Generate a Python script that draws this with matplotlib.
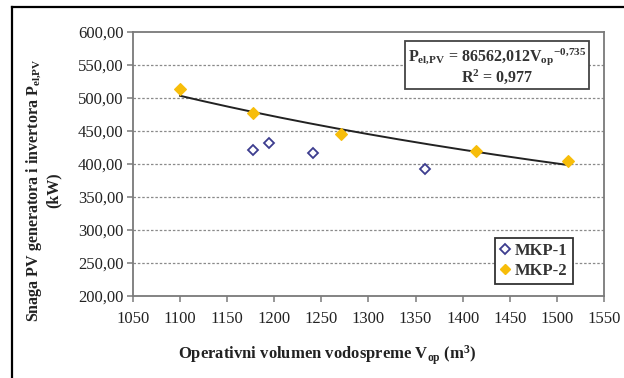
import numpy as np
import matplotlib
matplotlib.use("Agg")
import matplotlib.pyplot as plt
from matplotlib.ticker import FuncFormatter, MultipleLocator
from matplotlib.lines import Line2D

plt.rcParams.update(
    {
        "font.family": "Liberation Serif",
        "mathtext.fontset": "custom",
        "mathtext.rm": "Liberation Serif:bold",
        "mathtext.it": "Liberation Serif:bold",
        "mathtext.bf": "Liberation Serif:bold",
    }
)

# measured points
mkp1_v = [1177, 1194, 1241, 1360]
mkp1_p = [421, 432, 416, 392]
mkp2_v = [1100, 1177, 1271, 1414, 1512]
mkp2_p = [513, 478, 445, 420, 404]

# power-law trend fitted to MKP-2
fit_a = 86562.012
fit_b = -0.735
fit_r2 = 0.977

fig = plt.figure(figsize=(6.24, 3.78), dpi=100)
ax = fig.add_axes([0.2131, 0.2169, 0.7548, 0.6984])

ax.set_xlim(1050, 1550)
ax.set_ylim(200, 600)
ax.xaxis.set_major_locator(MultipleLocator(50))
ax.yaxis.set_major_locator(MultipleLocator(50))
ax.yaxis.set_major_formatter(FuncFormatter(lambda v, p: f"{v:.2f}".replace(".", ",")))

for y in np.arange(250, 600, 50):
    ax.axhline(y, color="#8a8a8a", lw=0.9, ls=(0, (2, 1.5)), zorder=0)

for s in ax.spines.values():
    s.set_color("#7a7a7a")
    s.set_linewidth(1.3)
ax.tick_params(direction="out", length=4, width=1.1, color="#7a7a7a",
               labelsize=12, labelcolor="#222222", pad=3)
ax.tick_params(axis="x", pad=7)

v_fit = np.linspace(min(mkp2_v), max(mkp2_v), 200)
ax.plot(v_fit, fit_a * v_fit ** fit_b, color="#222222", lw=1.4, zorder=2)

ax.plot(mkp1_v, mkp1_p, ls="none", marker="D", ms=5.5, mfc="white",
        mec="#3d3d8f", mew=1.3, zorder=3)
ax.plot(mkp2_v, mkp2_p, ls="none", marker="D", ms=6, mfc="#f7bd0a",
        mec="#f7bd0a", mew=0.8, zorder=3)

a_txt = f"{fit_a:.3f}".replace(".", "{,}")
b_txt = f"{fit_b:.3f}".replace(".", "{,}")
r_txt = f"{fit_r2:.3f}".replace(".", ",")
ax.text(0.773, 0.872,
        f"P$_{{\\mathrm{{el{{,}}PV}}}}$ = {a_txt.replace('{,}', ',')}V$_{{\\mathrm{{op}}}}$$^{{{b_txt}}}$\n"
        f"R$^{{2}}$ = {r_txt}",
        transform=ax.transAxes, ha="center", va="center", fontsize=11.5,
        fontweight="bold", color="#333333", linespacing=1.0,
        bbox=dict(boxstyle="square,pad=0.2", fc="white", ec="#444444", lw=1.3))

handles = [
    Line2D([], [], ls="none", marker="D", ms=5, mfc="white", mec="#3d3d8f", mew=1.3),
    Line2D([], [], ls="none", marker="D", ms=5, mfc="#f7bd0a", mec="#f7bd0a"),
]
leg = ax.legend(handles, ["MKP-1", "MKP-2"], loc="lower left",
                bbox_to_anchor=(0.769, 0.045), fancybox=False, framealpha=1,
                edgecolor="#333333", handlelength=0.6, handletextpad=0.3,
                borderpad=0.3, labelspacing=0.25, borderaxespad=0,
                prop={"family": "Liberation Serif", "weight": "bold", "size": 12})
leg.get_frame().set_linewidth(1.3)
for t in leg.get_texts():
    t.set_color("#333333")

fig.text(0.069, 0.497,
         "Snaga PV generatora i invertora P$_{\\mathrm{el{,}PV}}$\n(kW)",
         rotation=90, ha="center", va="center", multialignment="center",
         fontsize=11.5, fontweight="bold", color="#222222", linespacing=1.1)
fig.text(0.524, 0.061, "Operativni volumen vodospreme V$_{\\mathrm{op}}$ (m$^{3}$)",
         ha="center", va="center", fontsize=12, fontweight="bold", color="#222222")

# outer frame
fig.add_artist(Line2D([0.0192, 0.0192], [0, 0.9815], transform=fig.transFigure,
                      color="black", lw=1.6))
fig.add_artist(Line2D([0.0192, 1.0], [0.9815, 0.9815], transform=fig.transFigure,
                      color="black", lw=1.6))

fig.savefig("out.png", dpi=100)
